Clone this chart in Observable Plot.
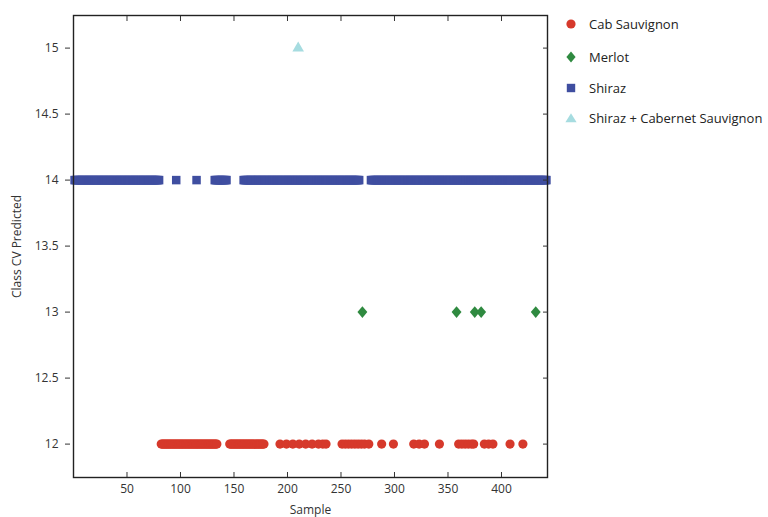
<!DOCTYPE html>
<html>
<head>
<meta charset="utf-8">
<script src="https://cdn.jsdelivr.net/npm/d3@7"></script>
<script src="https://cdn.jsdelivr.net/npm/@observablehq/plot@0.6"></script>
<style>
  html, body { margin: 0; padding: 0; background: #fff; }
  #wrap { position: relative; width: 768px; height: 517px; overflow: hidden; font-family: 'Open Sans', sans-serif; }
  .leg { position: absolute; left: 564px; height: 16px; line-height: 16px; font-size: 13px; color: #222; white-space: nowrap; display: flex; align-items: center; }
  .leg svg { width: 14px; height: 14px; margin-right: 11px; overflow: visible; }
</style>
</head>
<body>
<div id="wrap"></div>
<script>
// ---- data ----
const classNames = ["Cab Sauvignon", "Merlot", "Shiraz", "Shiraz + Cabernet Sauvignon"];
const classCodes = [12, 13, 14, 15];
const classColors = ["#d6392b", "#2f8a40", "#3f4ea0", "#a6dce0"];

const cabSauvignonSamples = [
  82, 83, 84, 85, 86, 87, 88, 89, 90, 91, 92, 93, 94, 95, 96, 97, 98, 99, 100,
  101, 102, 103, 104, 105, 106, 107, 108, 109, 110, 111, 112, 113, 114, 115, 116, 117,
  118, 119, 120, 121, 122, 123, 124, 125, 126, 127, 128, 129, 130, 131, 132, 133, 134,
  146, 147, 148, 149, 150, 151, 152, 153, 154, 155, 156, 157, 158, 159, 160, 161, 162,
  163, 164, 165, 166, 167, 168, 169, 170, 171, 172, 173, 174, 175, 176, 177, 178,
  193, 199, 205, 211, 217, 223, 229, 233, 236,
  251, 254, 257, 260, 263, 266, 269, 272, 276,
  288, 299, 318, 323, 328, 342,
  360, 363, 366, 369, 372, 374, 384, 388, 392, 408, 420
];
const merlotSamples = [270, 358, 375, 381, 432];
const shirazSamples = [
  1, 2, 3, 4, 5, 6, 7, 8, 9, 10, 11, 12, 13, 14, 15, 16, 17, 18, 19, 20,
  21, 22, 23, 24, 25, 26, 27, 28, 29, 30, 31, 32, 33, 34, 35, 36, 37, 38, 39, 40,
  41, 42, 43, 44, 45, 46, 47, 48, 49, 50, 51, 52, 53, 54, 55, 56, 57, 58, 59, 60,
  61, 62, 63, 64, 65, 66, 67, 68, 69, 70, 71, 72, 73, 74, 75, 76, 77, 78, 79, 80,
  96, 115,
  132, 133, 134, 135, 136, 137, 138, 139, 140, 141, 142, 143,
  159, 160, 161, 162, 163, 164, 165, 166, 167, 168, 169, 170, 171, 172, 173, 174, 175,
  176, 177, 178, 179, 180, 181, 182, 183, 184, 185, 186, 187, 188, 189, 190, 191, 192,
  193, 194, 195, 196, 197, 198, 199, 200, 201, 202, 203, 204, 205, 206, 207, 208, 209,
  210, 211, 212, 213, 214, 215, 216, 217, 218, 219, 220, 221, 222, 223, 224, 225, 226,
  227, 228, 229, 230, 231, 232, 233, 234, 235, 236, 237, 238, 239, 240, 241, 242, 243,
  244, 245, 246, 247, 248, 249, 250, 251, 252, 253, 254, 255, 256, 257, 258, 259, 260,
  261, 262, 263, 264, 265, 266, 267,
  278, 279, 280, 281, 282, 283, 284, 285, 286, 287, 288, 289, 290, 291, 292, 293, 294,
  295, 296, 297, 298, 299, 300, 301, 302, 303, 304, 305, 306, 307, 308, 309, 310, 311,
  312, 313, 314, 315, 316, 317, 318, 319, 320, 321, 322, 323, 324, 325, 326, 327, 328,
  329, 330, 331, 332, 333, 334, 335, 336, 337, 338, 339, 340, 341, 342, 343, 344, 345,
  346, 347, 348, 349, 350, 351, 352, 353, 354, 355, 356, 357, 358, 359, 360, 361, 362,
  363, 364, 365, 366, 367, 368, 369, 370, 371, 372, 373, 374, 375, 376, 377, 378, 379,
  380, 381, 382, 383, 384, 385, 386, 387, 388, 389, 390, 391, 392, 393, 394, 395, 396,
  397, 398, 399, 400, 401, 402, 403, 404, 405, 406, 407, 408, 409, 410, 411, 412, 413,
  414, 415, 416, 417, 418, 419, 420, 421, 422, 423, 424, 425, 426, 427, 428, 429, 430,
  431, 432, 433, 434, 435, 436, 437, 438, 439, 440, 441, 442
];
const shirazCabSamples = [210];

const xTicks = [50, 100, 150, 200, 250, 300, 350, 400];
const xTickLabels = ["50", "100", "150", "200", "250", "300", "350", "400"];
const yTicks = [12, 12.5, 13, 13.5, 14, 14.5, 15];
const yTickLabels = ["12", "12.5", "13", "13.5", "14", "14.5", "15"];
const xLabel = "Sample";
const yLabel = "Class CV Predicted";

// ---- build ----
const groups = [cabSauvignonSamples, merlotSamples, shirazSamples, shirazCabSamples];
const rows = groups.map((g, k) => g.map(s => ({sample: s, predicted: classCodes[k], cls: classNames[k]})));

const diamondSym = {
  draw(ctx, size) {
    const r = Math.sqrt(size / Math.PI);
    const w = r * 0.95, h = r * 1.12;
    ctx.moveTo(0, -h); ctx.lineTo(w, 0); ctx.lineTo(0, h); ctx.lineTo(-w, 0); ctx.closePath();
  }
};
const symbols = ["circle", diamondSym, "square", "triangle"];
const radii = [4.6, 5.2, 4.8, 4.3];

const drawOrder = [2, 0, 1, 3];
const dotMarks = drawOrder.map(k => Plot.dot(rows[k], {
  x: "sample", y: "predicted", symbol: symbols[k], fill: classColors[k], stroke: "none", r: radii[k]
}));

const fmtX = d => xTickLabels[xTicks.indexOf(d)];
const fmtY = d => yTickLabels[yTicks.indexOf(d)];
const blank = () => "";

const chart = Plot.plot({
  width: 768,
  height: 517,
  marginLeft: 73,
  marginRight: 221,
  marginTop: 15,
  marginBottom: 40,
  style: {fontFamily: "'Open Sans', sans-serif", fontSize: "12px", color: "#222", background: "#fff"},
  x: {domain: [0, 443], axis: null},
  y: {domain: [11.747, 15.247], axis: null},
  marks: [
    ...dotMarks,
    Plot.frame({stroke: "#222", strokeWidth: 1.4}),
    // inward ticks
    Plot.axisX(xTicks, {anchor: "bottom", tickSize: 5, dy: -5, tickFormat: blank, label: null, stroke: "#333"}),
    Plot.axisX(xTicks, {anchor: "top", tickSize: 5, dy: 5, tickFormat: blank, label: null, stroke: "#333"}),
    Plot.axisY(yTicks, {anchor: "right", tickSize: 5, dx: -5, tickFormat: blank, label: null, stroke: "#333"}),
    Plot.axisY(yTicks, {anchor: "left", tickSize: 5, dx: -3, tickFormat: blank, label: null, stroke: "#333"}),
    // labels
    Plot.axisX(xTicks, {anchor: "bottom", tickSize: 0, tickPadding: 7, tickFormat: fmtX, fill: "#333",
      label: xLabel, labelAnchor: "center", labelOffset: 36, labelArrow: false}),
    Plot.axisY(yTicks, {anchor: "left", tickSize: 0, tickPadding: 15, tickFormat: fmtY, fill: "#333",
      label: yLabel, labelAnchor: "center", labelOffset: 61, labelArrow: false})
  ]
});

const wrap = document.getElementById("wrap");
wrap.appendChild(chart);

// ---- legend ----
const legendTops = [24, 57, 88, 118];
const legendShapes = [
  '<circle cx="7" cy="7" r="4.6" />',
  '<path d="M7,1.6 L11.6,7 L7,12.4 L2.4,7 Z" />',
  '<rect x="2.8" y="2.8" width="8.4" height="8.4" />',
  '<path d="M7,2.2 L12.6,11.2 L1.4,11.2 Z" />'
];
classNames.forEach((name, k) => {
  const div = document.createElement("div");
  div.className = "leg";
  div.style.top = (legendTops[k] - 8) + "px";
  div.innerHTML = `<svg viewBox="0 0 14 14" fill="${classColors[k]}">${legendShapes[k]}</svg><span>${name}</span>`;
  wrap.appendChild(div);
});
</script>
</body>
</html>
